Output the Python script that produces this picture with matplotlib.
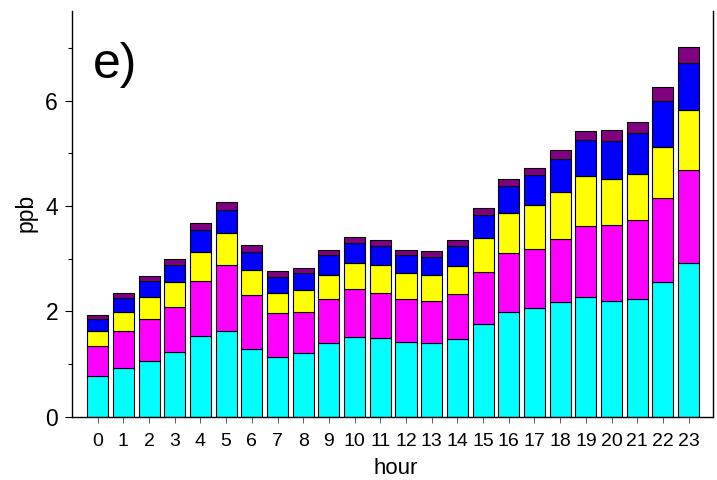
import matplotlib
matplotlib.use("Agg")
import matplotlib.pyplot as plt
import numpy as np

plt.rcParams['font.family'] = ['Liberation Sans', 'DejaVu Sans']

hours = list(range(24))
# cumulative tops, converted to segment heights below
cyan_top = [0.78, 0.93, 1.06, 1.22, 1.53, 1.62, 1.28, 1.14, 1.21, 1.39, 1.51, 1.49,
            1.42, 1.40, 1.47, 1.75, 1.99, 2.06, 2.18, 2.28, 2.20, 2.23, 2.55, 2.91]
magenta_top = [1.34, 1.63, 1.86, 2.09, 2.58, 2.87, 2.30, 1.96, 1.98, 2.23, 2.42, 2.34,
               2.23, 2.19, 2.32, 2.75, 3.10, 3.18, 3.37, 3.61, 3.63, 3.73, 4.15, 4.69]
yellow_top = [1.62, 1.98, 2.27, 2.55, 3.13, 3.49, 2.78, 2.34, 2.40, 2.69, 2.92, 2.87,
              2.72, 2.69, 2.86, 3.40, 3.86, 4.01, 4.27, 4.56, 4.51, 4.60, 5.12, 5.82]
blue_top = [1.85, 2.25, 2.57, 2.88, 3.54, 3.92, 3.13, 2.65, 2.72, 3.06, 3.30, 3.23,
            3.07, 3.04, 3.24, 3.83, 4.37, 4.58, 4.90, 5.26, 5.24, 5.38, 6.00, 6.72]
purple_top = [1.93, 2.34, 2.67, 2.99, 3.67, 4.08, 3.26, 2.76, 2.83, 3.17, 3.41, 3.35,
              3.17, 3.14, 3.35, 3.96, 4.51, 4.72, 5.07, 5.43, 5.44, 5.60, 6.25, 7.02]

tops = [cyan_top, magenta_top, yellow_top, blue_top, purple_top]
colors = ['#00ffff', '#ff00ff', '#ffff00', '#0000ff', '#800080']

fig = plt.figure(figsize=(7.17, 4.8), dpi=100)
ax = fig.add_axes([0.1004, 0.132, 0.894, 0.845])

bottom = np.zeros(24)
for top, col in zip(tops, colors):
    top = np.array(top)
    ax.bar(hours, top - bottom, bottom=bottom, width=0.82, color=col,
           edgecolor='black', linewidth=0.8)
    bottom = top

ax.set_xlim(-1.0, 23.95)
ax.set_ylim(0, 7.7)
ax.set_yticks([0, 2, 4, 6])
ax.set_yticks([1, 3, 5, 7], minor=True)
ax.set_xticks(hours)
ax.set_xticklabels([str(h) for h in hours], fontsize=14)
ax.tick_params(axis='y', labelsize=16.5, direction='out', length=5, width=0.8, pad=5)
ax.tick_params(axis='y', which='minor', length=3, width=0.8)
ax.tick_params(axis='x', direction='out', length=4, width=0.6, color='#444444', pad=8)
for s in ax.spines.values():
    s.set_linewidth(1.0)
ax.spines['top'].set_visible(False)

ax.set_xlabel('hour', fontsize=16, va='center')
ax.xaxis.set_label_coords(0.505, -0.128)
ax.set_ylabel('ppb', fontsize=16.5, va='center')
ax.yaxis.set_label_coords(-0.072, 0.502)
ax.text(0.033, 0.835, 'e)', transform=ax.transAxes, fontsize=36, va='baseline', ha='left')

fig.savefig('out.png', dpi=100)
